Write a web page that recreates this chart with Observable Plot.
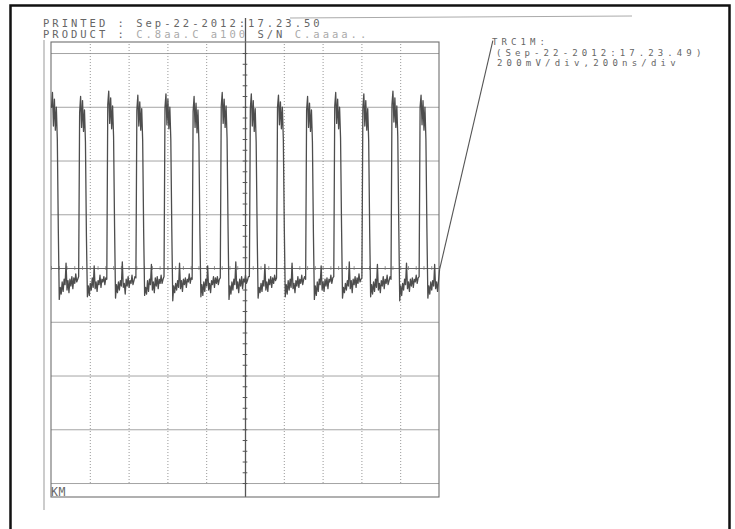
<!DOCTYPE html>
<html>
<head>
<meta charset="utf-8">
<script src="https://cdn.jsdelivr.net/npm/d3@7"></script>
<script src="https://cdn.jsdelivr.net/npm/@observablehq/plot@0.6"></script>
<style>
  html, body { margin: 0; padding: 0; background: #fff; }
  #chart { position: relative; width: 735px; height: 529px; overflow: hidden; }
  svg { display: block; }
</style>
</head>
<body>
<div id="chart"></div>
<script>
// ---- Scope settings (from the header: 200mV/div, 200ns/div) ----
const timePerDivNs = 200;
const voltsPerDivMv = 200;
const xGridNs = [0, 200, 400, 600, 800, 1000, 1200, 1400, 1600, 1800, 2000];
const yGridMv = [-800, -600, -400, -200, 200, 400, 600, 800];
const centerTimeNs = 1000;
const sampleIntervalNs = 5;
// graticule box incl. the top and bottom label strips (data units)
const boxExtent = [{t1: 0, t2: 2000, mv1: -852, mv2: 841}];

// ---- Header texts ----
const printedLabel = "PRINTED : Sep-22-2012:17.23.50";
const productLabel = ["PRODUCT : ", "C.8aa.C a100", " S/N ", "C.aaaa.."];
const traceName = "TRC1M:";
const traceDate = "(Sep-22-2012:17.23.49)";
const traceScale = "200mV/div,200ns/div";
const cornerLabel = "KM";

// ---- Trace samples (mV), one sample every 5 ns ----
const traceMv = [
  // pulse 1 (already high at t = 0)
  600, 655, 530, 630, 515, 600, 480, 150, -115,
  -70, -95, -50, -85, -40, -60, 20, -80, -45, -90, -40, -65, -30, -75, -35, -55, -20, -50, -40,
  // pulse 2
  -30, 580, 640, 525, 625, 510, 590, 470, 120, -105,
  -65, -100, -55, -80, -35, -70, 10, -75, -50, -85, -45, -60, -25, -70, -40, -50, -30, -60, -35,
  // pulse 3
  -40, 610, 660, 540, 635, 520, 605, 490, 160, -110,
  -60, -90, -50, -80, -45, -65, 25, -70, -55, -95, -40, -65, -30, -70, -45, -55, -25, -60, -45, -30,
  // pulse 4
  -35, 590, 645, 530, 620, 515, 595, 475, 140, -100,
  -70, -95, -45, -85, -40, -60, 15, -80, -50, -90, -35, -65, -30, -75, -40, -55, -25, -55, -40,
  // pulse 5
  -30, 600, 650, 535, 630, 520, 600, 480, 150, -120,
  -65, -90, -55, -80, -45, -70, 20, -75, -45, -85, -40, -60, -35, -70, -40, -50, -20, -55, -35,
  // pulse 6
  -40, 585, 640, 525, 615, 505, 590, 465, 130, -105,
  -60, -100, -50, -85, -40, -65, 10, -80, -55, -90, -45, -60, -30, -70, -35, -55, -30, -60, -40,
  // pulse 7
  -35, 605, 655, 540, 630, 525, 605, 485, 155, -115,
  -65, -95, -50, -80, -40, -60, 25, -75, -50, -90, -40, -65, -30, -75, -40, -50, -25, -55, -45, -30,
  // pulse 8
  -30, 595, 650, 530, 625, 510, 595, 470, 140, -110,
  -70, -90, -55, -85, -45, -65, 15, -80, -50, -85, -40, -60, -30, -70, -35, -55, -25, -45,
  // pulse 9
  -35, 600, 645, 535, 620, 520, 600, 480, 150, -105,
  -60, -95, -45, -80, -40, -70, 20, -75, -55, -90, -45, -65, -30, -70, -40, -55, -25, -60, -40, -30,
  // pulse 10
  -40, 590, 640, 525, 615, 510, 590, 470, 135, -115,
  -65, -100, -50, -85, -40, -60, 10, -80, -50, -85, -40, -65, -35, -75, -40, -50, -25, -55, -35,
  // pulse 11
  -30, 605, 655, 540, 630, 520, 600, 485, 160, -110,
  -70, -90, -55, -80, -45, -65, 25, -75, -45, -90, -40, -60, -30, -70, -35, -55, -20, -50, -40,
  // pulse 12
  -35, 595, 650, 530, 625, 515, 595, 475, 145, -105,
  -60, -95, -50, -85, -40, -70, 15, -80, -55, -90, -45, -65, -30, -75, -40, -55, -25, -60, -45, -30,
  // pulse 13
  -40, 610, 660, 545, 635, 525, 605, 490, 160, -120,
  -65, -100, -55, -80, -40, -60, 20, -75, -50, -85, -40, -65, -35, -70, -40, -50, -25, -55, -35,
  // pulse 14 and tail
  -30, 600, 645, 535, 625, 515, 600, 480, 150, -110,
  -65, -95, -50, -80, -45, -65, 15, -75, -50, -85, -45, -5
];

// leader line from trace end to the trace label (data units)
const leaderEnd = {t: 2275, mv: 848};

// ---- build table ----
const trace = traceMv.map((mv, i) => ({t: i * sampleIntervalNs, mv}));
const last = trace[trace.length - 1];
const minorY = d3.range(-800, 801, voltsPerDivMv / 5).filter(v => v !== 0);
const minorX = d3.range(0, 2001, timePerDivNs / 5).filter(v => v !== centerTimeNs);

const chart = Plot.plot({
  width: 735,
  height: 529,
  marginTop: 0, marginBottom: 0, marginLeft: 0, marginRight: 0,
  x: {domain: [0, 2000], range: [51, 439], axis: null},
  y: {domain: [-852, 841], range: [497, 42], axis: null},
  style: {background: "white", overflow: "visible"},
  marks: [
    // horizontal graticule
    Plot.ruleY(yGridMv, {x1: 0, x2: 2000, stroke: "#9a9a9a", strokeWidth: 0.9}),
    // vertical graticule (dotted)
    Plot.ruleX(xGridNs.filter(v => v !== centerTimeNs && v !== 0 && v !== 2000),
      {y1: -800, y2: 841, stroke: "#8a8a8a", strokeWidth: 0.9, strokeDasharray: "1,2"}),
    // center axes
    Plot.ruleY([0], {x1: 0, x2: 2000, stroke: "#6a6a6a", strokeWidth: 1.1}),
    Plot.ruleX([centerTimeNs], {y1: 930, y2: -852, stroke: "#555", strokeWidth: 1.3}),
    Plot.ruleY(minorY, {x1: centerTimeNs - 12, x2: centerTimeNs + 12, stroke: "#555", strokeWidth: 1}),
    Plot.ruleX(minorX, {y1: -7, y2: 7, stroke: "#777", strokeWidth: 0.8}),
    // graticule box
    Plot.rect(boxExtent, {x1: "t1", x2: "t2", y1: "mv1", y2: "mv2",
      fill: "none", stroke: "#6f6f6f", strokeWidth: 1.1}),
    // signal
    Plot.line(trace, {x: "t", y: "mv", stroke: "#4d4d4d", strokeWidth: 1.3, strokeLinejoin: "round"}),
    // leader to label
    Plot.link([last], {x1: "t", y1: "mv", x2: () => leaderEnd.t, y2: () => leaderEnd.mv,
      stroke: "#555", strokeWidth: 1.1})
  ]
});

document.getElementById("chart").appendChild(chart);

// ---- page decorations (printout frame and header texts) ----
const svg = d3.select(chart);
const deco = svg.append("g").attr("text-anchor", "start");
// outer black frame
deco.append("rect").attr("x", 10.5).attr("y", 5.5).attr("width", 719).attr("height", 540)
  .attr("fill", "none").attr("stroke", "#111").attr("stroke-width", 2.5);
// left margin line of the printout
deco.append("line").attr("x1", 44).attr("x2", 44).attr("y1", 40).attr("y2", 510)
  .attr("stroke", "#999").attr("stroke-width", 1);
// header rule
deco.append("line").attr("x1", 290).attr("x2", 632).attr("y1", 18).attr("y2", 16)
  .attr("stroke", "#aaa").attr("stroke-width", 1);

const mono = "'DejaVu Sans Mono', 'Liberation Mono', monospace";
function label(x, y, str, opts = {}) {
  return deco.append("text").attr("x", x).attr("y", y)
    .attr("text-anchor", "start")
    .attr("font-family", mono).attr("font-size", opts.size || 10.5)
    .attr("letter-spacing", opts.spacing ?? 3.0)
    .attr("fill", opts.fill || "#666").text(str);
}
label(43, 27, printedLabel);
const prod = label(43, 38, "");
prod.append("tspan").text(productLabel[0]);
prod.append("tspan").attr("fill", "#aaa").text(productLabel[1]);
prod.append("tspan").text(productLabel[2]);
prod.append("tspan").attr("fill", "#aaa").text(productLabel[3]);

label(492, 45, traceName, {size: 9, spacing: 4.1});
label(496, 55.5, traceDate, {size: 9, spacing: 4.1});
label(497, 65.5, traceScale, {size: 9, spacing: 4.2});
label(51, 496, cornerLabel, {size: 11.5, spacing: 0.5, fill: "#666"});
</script>
</body>
</html>
